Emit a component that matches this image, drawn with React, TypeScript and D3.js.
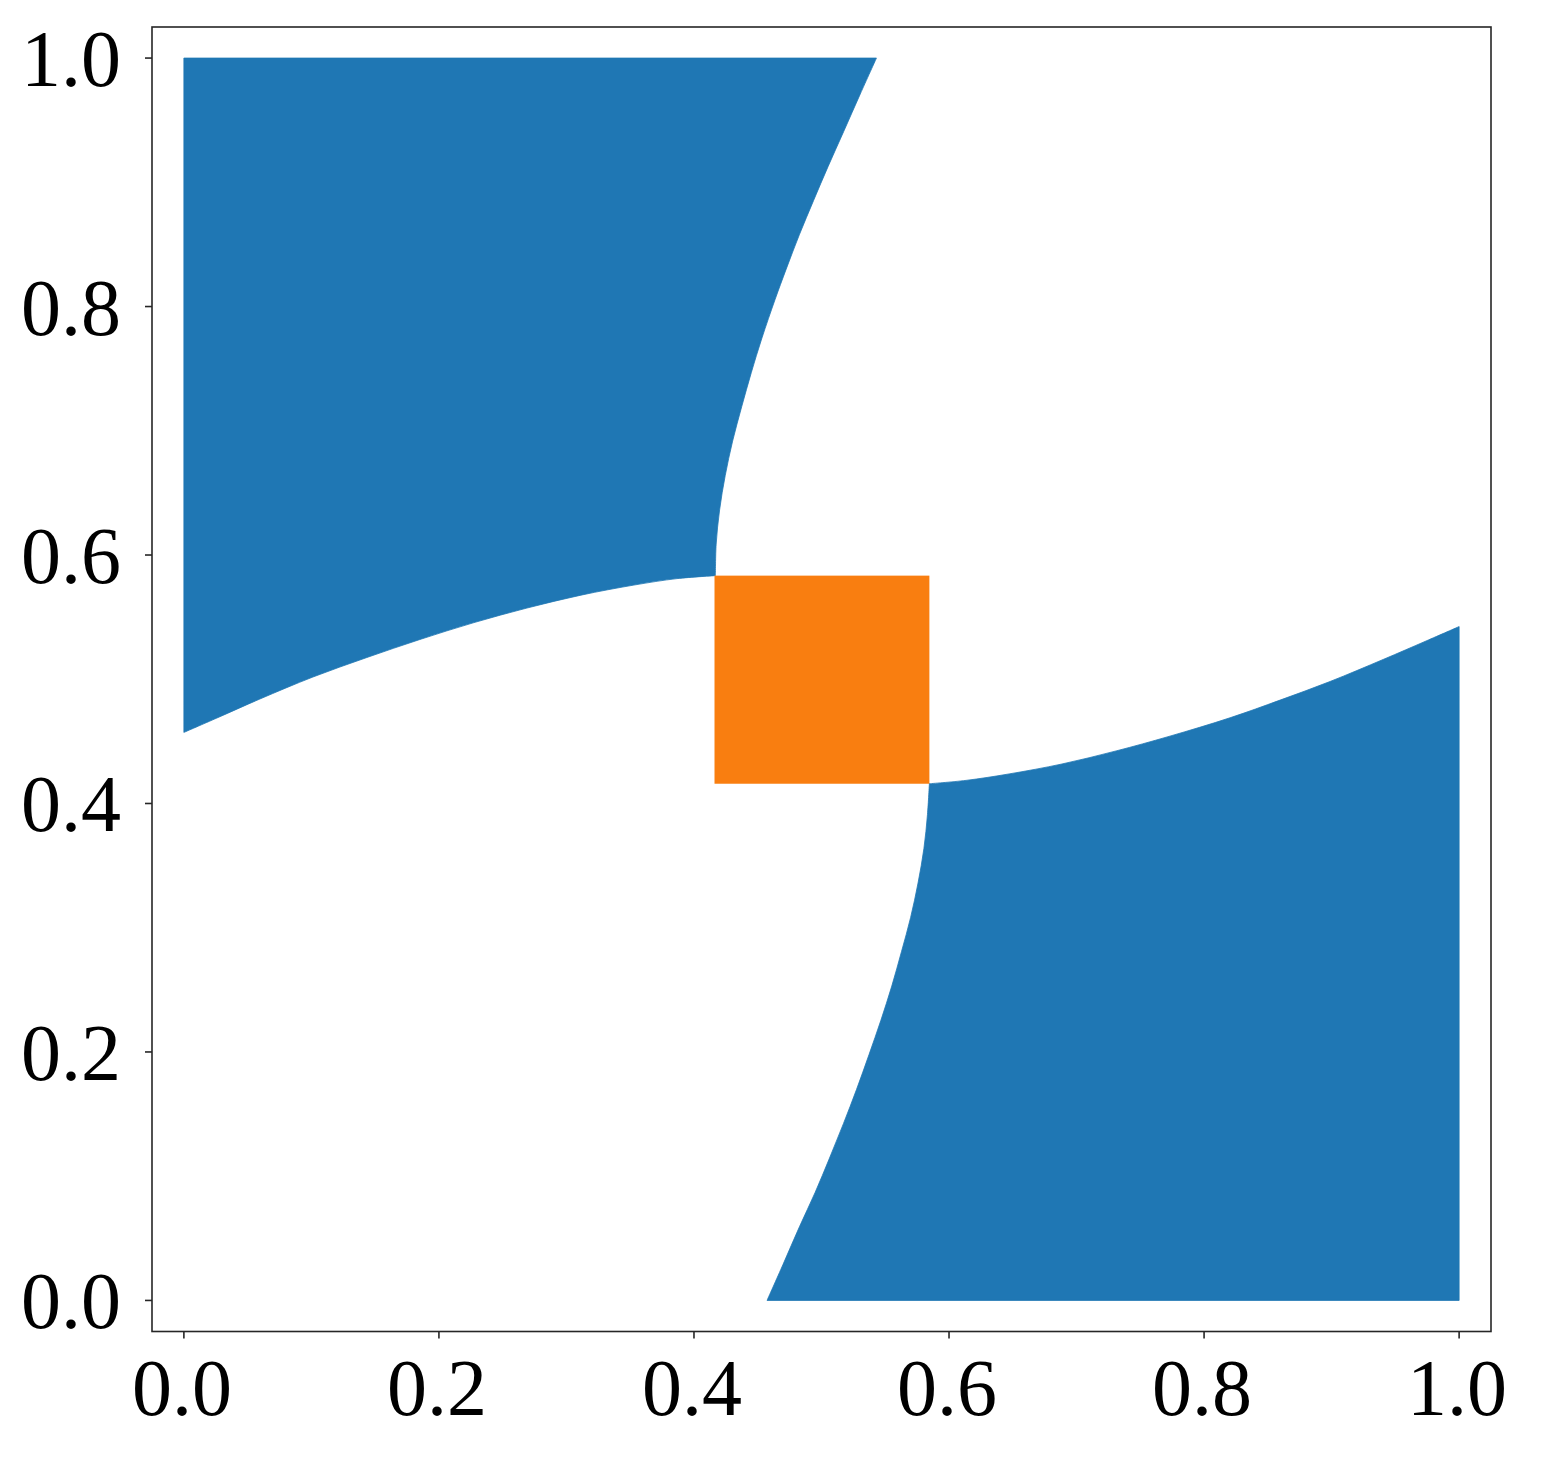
import React from "react";
import * as d3 from "d3";

// Upper-left blue region: right boundary (top -> bottom)
const ulRightX = [0.5431, 0.5304, 0.5174, 0.5052, 0.4938, 0.4826, 0.4723, 0.4635, 0.4533, 0.445, 0.4374, 0.4303, 0.4245, 0.4201, 0.4174, 0.4168];
const ulRightY = [1.0, 0.9711, 0.9409, 0.9128, 0.8854, 0.8577, 0.8301, 0.8054, 0.7747, 0.747, 0.7193, 0.6917, 0.664, 0.6363, 0.6088, 0.5834];
// Upper-left blue region: lower boundary (left -> right)
const ulLowerX = [0.0, 0.0259, 0.0596, 0.1012, 0.1435, 0.1851, 0.2275, 0.269, 0.3114, 0.3529, 0.3867, 0.4168];
const ulLowerY = [0.4572, 0.4688, 0.4841, 0.5018, 0.5175, 0.532, 0.5456, 0.5573, 0.5677, 0.5758, 0.581, 0.5834];

// Lower-right blue region: left boundary (top -> bottom)
const lrLeftX = [0.5846, 0.5831, 0.5803, 0.5757, 0.5699, 0.5627, 0.5551, 0.5465, 0.5372, 0.5275, 0.5172, 0.5063, 0.495, 0.4827, 0.4698, 0.4573];
const lrLeftY = [0.4162, 0.3912, 0.3637, 0.336, 0.3083, 0.2807, 0.253, 0.2253, 0.1977, 0.1699, 0.1423, 0.1146, 0.0869, 0.0593, 0.0289, 0.0];
// Lower-right blue region: upper boundary (left -> right)
const lrUpperX = [0.5846, 0.6133, 0.6471, 0.6886, 0.731, 0.7725, 0.8204, 0.8596, 0.8988, 0.9404, 0.9741, 1.0];
const lrUpperY = [0.4159, 0.4186, 0.4238, 0.4318, 0.4423, 0.454, 0.469, 0.4832, 0.4982, 0.5159, 0.5308, 0.5424];

// Orange square
const sqX = [0.4161, 0.5846];
const sqY = [0.4159, 0.5834];

const xTicks = [0, 0.2, 0.4, 0.6, 0.8, 1.0];
const yTicks = [0, 0.2, 0.4, 0.6, 0.8, 1.0];
const tickLabels = ["0.0", "0.2", "0.4", "0.6", "0.8", "1.0"];

const BLUE = "#1f77b4";
const ORANGE = "#f97e10";

export default function App() {
  const W = 1556, H = 1462;
  const left = 152, right = 1491, top = 27, bottom = 1331.5;
  const x = d3.scaleLinear().domain([-0.025, 1.025]).range([left, right]);
  const y = d3.scaleLinear().domain([-0.025, 1.025]).range([bottom, top]);
  const curve = d3
    .line<[number, number]>()
    .x((d) => x(d[0]))
    .y((d) => y(d[1]))
    .curve(d3.curveCatmullRom.alpha(0.5));

  const zip = (xs: number[], ys: number[]) => xs.map((v, i) => [v, ys[i]] as [number, number]);
  const seg = (pts: [number, number][]) => (curve(pts) || "").replace(/^M/, "L");

  const ulPath =
    `M${x(0)},${y(1)}` +
    seg(zip(ulRightX, ulRightY)) +
    seg(zip(ulLowerX, ulLowerY).reverse()) +
    "Z";
  const lrPath =
    `M${x(1)},${y(0)}` +
    seg(zip(lrLeftX, lrLeftY).reverse()) +
    seg(zip(lrUpperX, lrUpperY)) +
    "Z";

  const font = "'Liberation Serif', 'DejaVu Serif', serif";
  const fs = 80;

  return (
    <svg width={W} height={H} style={{ position: "absolute", left: 0, top: 0, background: "#fff" }}>
      <rect x={0} y={0} width={W} height={H} fill="#fff" />
      <path d={ulPath} fill={BLUE} stroke={BLUE} strokeWidth={0.8} strokeLinejoin="round" />
      <path d={lrPath} fill={BLUE} stroke={BLUE} strokeWidth={0.8} strokeLinejoin="round" />
      <rect
        x={x(sqX[0])}
        y={y(sqY[1])}
        width={x(sqX[1]) - x(sqX[0])}
        height={y(sqY[0]) - y(sqY[1])}
        fill={ORANGE}
      />
      <rect x={left} y={top} width={right - left} height={bottom - top} fill="none" stroke="#262626" strokeWidth={1.6} />
      {xTicks.map((t, i) => (
        <g key={"x" + i}>
          <line x1={x(t)} x2={x(t)} y1={bottom} y2={bottom + 7} stroke="#262626" strokeWidth={1.6} />
          <text x={x(t) - 2} y={1415} textAnchor="middle" fontFamily={font} fontSize={fs} fill="#000">
            {tickLabels[i]}
          </text>
        </g>
      ))}
      {yTicks.map((t, i) => (
        <g key={"y" + i}>
          <line x1={left - 7} x2={left} y1={y(t)} y2={y(t)} stroke="#262626" strokeWidth={1.6} />
          <text x={121} y={y(t) + 28} textAnchor="end" fontFamily={font} fontSize={fs} fill="#000">
            {tickLabels[i]}
          </text>
        </g>
      ))}
    </svg>
  );
}
